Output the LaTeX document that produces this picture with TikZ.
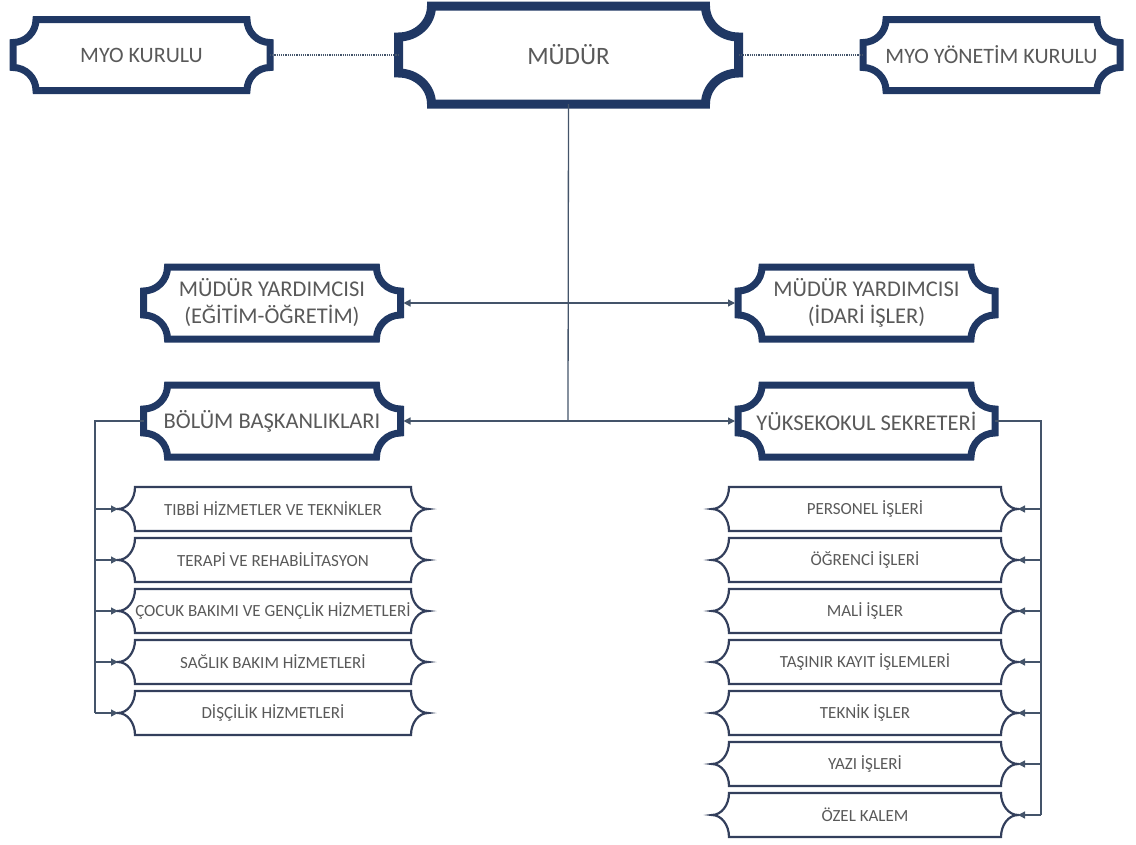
\documentclass[tikz,border=0pt]{standalone}
\usepackage{fontspec}
\setmainfont{Carlito}
\usetikzlibrary{calc,arrows.meta}

\definecolor{navy}{HTML}{203864}
\definecolor{slate}{HTML}{44546A}
\definecolor{thinframe}{HTML}{333F5C}
\definecolor{txtgray}{HTML}{595959}

% plaque frame: x radius, y radius, line width, colour
\tikzset{
  plaque/.style n args={4}{
    append after command={\pgfextra{\pgfinterruptpath
      \draw[line width=#3,draw=#4]
        ($(\tikzlastnode.north west)+(#1,0)$) -- ($(\tikzlastnode.north east)+(-#1,0)$)
        arc[start angle=180,end angle=270,x radius=#1,y radius=#2]
        -- ($(\tikzlastnode.south east)+(0,#2)$)
        arc[start angle=90,end angle=180,x radius=#1,y radius=#2]
        -- ($(\tikzlastnode.south west)+(#1,0)$)
        arc[start angle=0,end angle=90,x radius=#1,y radius=#2]
        -- ($(\tikzlastnode.north west)+(0,-#2)$)
        arc[start angle=270,end angle=360,x radius=#1,y radius=#2]
        -- cycle;
      \endpgfinterruptpath}}
  },
  topbox/.style={plaque={23pt}{23pt}{7pt}{navy},minimum width=257pt,minimum height=71pt,
    font=\fontsize{22}{26}\selectfont},
  midbox/.style={plaque={24pt}{24pt}{7pt}{navy},minimum width=257pt,minimum height=72pt,
    font=\fontsize{22.5}{27}\selectfont},
  subbox/.style={plaque={17pt}{22pt}{2.2pt}{thinframe},minimum height=44pt,
    font=\fontsize{17}{20}\selectfont},
  link/.style={draw=slate,line width=1.3pt},
  arr/.style={link,-{Triangle[length=7pt,width=7pt]}}
}

\begin{document}
\begin{tikzpicture}[x=1pt,y=1pt]
  \useasboundingbox (0,0) rectangle (1136,-844);

  \begin{scope}[every node/.style={inner sep=0pt,outer sep=0pt,text=txtgray,align=center}]
    \node[plaque={33pt}{31pt}{9pt}{navy},minimum width=340pt,minimum height=98pt,
      font=\fontsize{25}{30}\selectfont] (mudur) at (568.5,-55) {MÜDÜR};
    \node[topbox] (myok) at (141.5,-55) {MYO KURULU};
    \node[topbox] (myoy) at (991.5,-55) {MYO YÖNETİM KURULU};

    \node[midbox] (yrd1) at (272,-303) {MÜDÜR YARDIMCISI\\(EĞİTİM-ÖĞRETİM)};
    \node[midbox] (yrd2) at (866.5,-303) {MÜDÜR YARDIMCISI\\(İDARİ İŞLER)};
    \node[midbox] (bolum) at (272,-421) {BÖLÜM BAŞKANLIKLARI};
    \node[midbox] (sekr) at (866.5,-421) {YÜKSEKOKUL SEKRETERİ};

    \foreach \t [count=\i] in {TIBBİ HİZMETLER VE TEKNİKLER,TERAPİ VE REHABİLİTASYON,
        ÇOCUK BAKIMI VE GENÇLİK HİZMETLERİ,SAĞLIK BAKIM HİZMETLERİ,DİŞÇİLİK HİZMETLERİ}
      \node[subbox,minimum width=310pt] (b\i) at (273,-458-51*\i) {\t};

    \foreach \t [count=\i] in {PERSONEL İŞLERİ,ÖĞRENCİ İŞLERİ,MALİ İŞLER,
        TAŞINIR KAYIT İŞLEMLERİ,TEKNİK İŞLER,YAZI İŞLERİ,ÖZEL KALEM}
      \node[subbox,minimum width=306pt] (s\i) at (865,-458-51*\i) {\t};
  \end{scope}

  \coordinate (j1) at (568,-303);
  \coordinate (j2) at (568,-421);
  \coordinate (lb) at (95,-421);
  \coordinate (rb) at (1041,-421);

  % dotted links on top row
  \draw[draw=slate,line width=1.2pt,dash pattern=on 1.2pt off 1pt] (myok.east) -- (mudur.west);
  \draw[draw=slate,line width=1.2pt,dash pattern=on 1.2pt off 1pt] (mudur.east) -- (myoy.west);

  % main stem
  \draw[link] (mudur.south) -- (j2);
  \draw[arr,shorten >=3pt] (j1) -- (yrd1.east);
  \draw[arr,shorten >=3pt] (j1) -- (yrd2.west);
  \draw[arr,shorten >=3pt] (j2) -- (bolum.east);
  \draw[arr,shorten >=3pt] (j2) -- (sekr.west);

  % left bus
  \draw[link] (bolum.west) -- (lb) -- (lb |- b5.west);
  \foreach \i in {1,...,5}
    \draw[arr] (lb |- b\i.west) -- (b\i.west);

  % right bus
  \draw[link] (sekr.east) -- (rb) -- (rb |- s7.east);
  \foreach \i in {1,...,7}
    \draw[arr] (rb |- s\i.east) -- (s\i.east);
\end{tikzpicture}
\end{document}
